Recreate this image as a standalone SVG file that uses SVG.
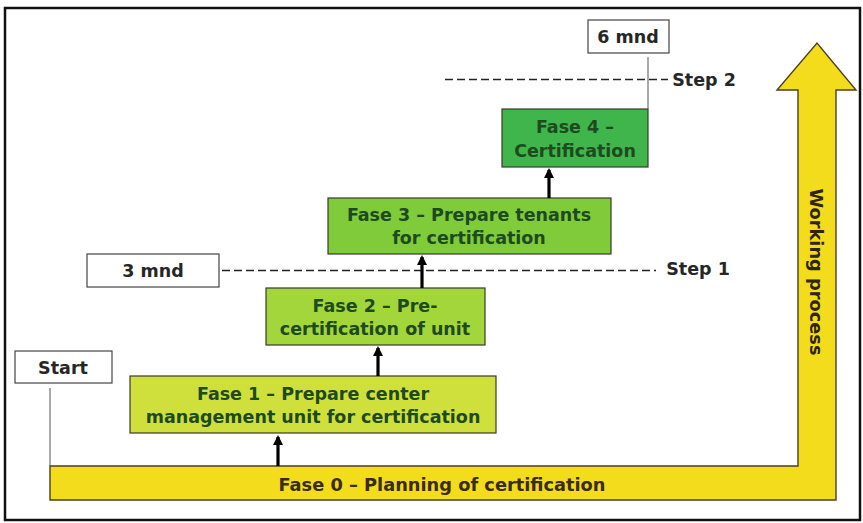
<svg xmlns="http://www.w3.org/2000/svg" width="863" height="523" viewBox="0 0 863 523">
<defs>
<style>
.t{font-family:"DejaVu Sans","Verdana",sans-serif;font-weight:bold;text-anchor:middle}
.ph{font-size:17.5px;fill:#1d4a1f}
.lb{font-size:17.5px;fill:#262626}
.box{stroke:#3a3a2a;stroke-width:1.2}
.wbox{fill:#fff;stroke:#444;stroke-width:1.2}
.dash{stroke:#222;stroke-width:1.3;stroke-dasharray:8,4;fill:none}
.up{stroke:#000;stroke-width:3.2;marker-end:url(#ah)}
</style>
<marker id="ah" viewBox="0 0 10 10" refX="8" refY="5" markerWidth="3.2" markerHeight="3.2" orient="auto">
<path d="M0,0 L10,5 L0,10 z" fill="#000"/>
</marker>
</defs>
<rect x="0" y="0" width="863" height="523" fill="#fff"/>
<rect x="5" y="8" width="855" height="512" fill="none" stroke="#111" stroke-width="2.5"/>

<g id="fase0">
<path d="M50,466 H798 V90 H777 L817,43 L856,90 H836 V500 H50 Z" fill="#f3dc1c" stroke="#4a3f22" stroke-width="1.4"/>
<text class="t" x="442" y="491" font-size="17.8" fill="#3a2c10">Fase 0 – Planning of certification</text>
<text class="t" font-size="17.8" fill="#2e2410" transform="translate(810,272) rotate(90)">Working process</text>
</g>

<g id="start">
<rect class="wbox" x="15" y="351" width="97" height="32"/>
<text class="t lb" x="63" y="374">Start</text>
</g>

<g id="fase1">
<rect class="box" x="130" y="376" width="366" height="57" fill="#cfe03c"/>
<text class="t ph" x="313" y="400">Fase 1 – Prepare center</text>
<text class="t ph" x="313" y="423">management unit for certification</text>
</g>

<g id="fase2">
<rect class="box" x="266" y="288" width="219" height="57" fill="#a3d63a"/>
<text class="t ph" x="375" y="312">Fase 2 – Pre-</text>
<text class="t ph" x="375" y="335">certification of unit</text>
</g>

<g id="mnd3">
<rect class="wbox" x="87" y="254" width="132" height="33"/>
<text class="t lb" x="153" y="277">3 mnd</text>
</g>

<g id="step1">
<text class="t lb" x="698" y="275">Step 1</text>
</g>

<g id="fase3">
<rect class="box" x="328" y="198" width="283" height="56" fill="#7fcb3a"/>
<text class="t ph" x="469" y="221">Fase 3 – Prepare tenants</text>
<text class="t ph" x="469" y="244">for certification</text>
</g>

<g id="fase4">
<rect class="box" x="502" y="109" width="146" height="58" fill="#3fb54b"/>
<text class="t ph" x="575" y="133">Fase 4 –</text>
<text class="t ph" x="575" y="157">Certification</text>
</g>

<g id="mnd6">
<rect class="wbox" x="588" y="20" width="81" height="33"/>
<text class="t lb" x="628" y="43">6 mnd</text>
</g>

<g id="step2">
<text class="t lb" x="704" y="86">Step 2</text>
</g>

<g id="connectors">
<line x1="50" y1="388" x2="50" y2="466" stroke="#555" stroke-width="1"/>
<line x1="648" y1="57" x2="648" y2="109" stroke="#555" stroke-width="1"/>
<line class="dash" x1="222" y1="270.5" x2="656" y2="270.5"/>
<line class="dash" x1="445" y1="79.5" x2="668" y2="79.5"/>
<line class="up" x1="278" y1="466" x2="278" y2="437"/>
<line class="up" x1="378" y1="376" x2="378" y2="348"/>
<line class="up" x1="422" y1="288" x2="422" y2="257"/>
<line class="up" x1="549" y1="198" x2="549" y2="170"/>
</g>
</svg>
